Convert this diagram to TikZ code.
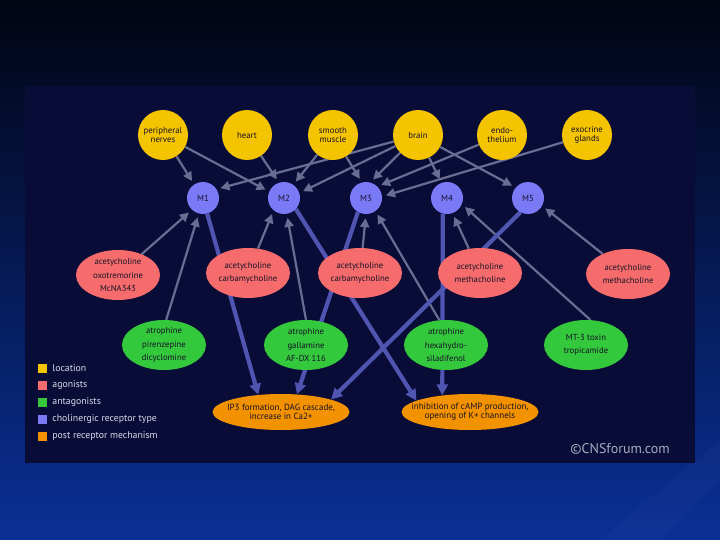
\documentclass[tikz,border=0pt]{standalone}
\usepackage{fontspec}
\setmainfont{PT Sans}
\usetikzlibrary{arrows.meta, shapes.geometric, positioning, backgrounds}

\definecolor{SlideTop}{RGB}{1,4,18}
\definecolor{SlideMid}{RGB}{5,24,86}
\definecolor{SlideBottom}{RGB}{10,48,150}
\definecolor{PanelNavy}{RGB}{10,12,56}
\definecolor{LocYellow}{RGB}{245,196,0}
\definecolor{AgonistRed}{RGB}{246,108,108}
\definecolor{AntagGreen}{RGB}{52,200,60}
\definecolor{ReceptorBlue}{RGB}{122,122,246}
\definecolor{MechOrange}{RGB}{243,146,0}
\definecolor{LinkGrey}{RGB}{104,110,146}
\definecolor{SignalBlue}{RGB}{80,85,178}
\definecolor{InkDark}{RGB}{22,18,40}
\definecolor{LegendText}{RGB}{215,218,235}
\definecolor{CopyGrey}{RGB}{165,170,190}

\pgfdeclarelayer{edges}
\pgfsetlayers{background,edges,main}

\tikzset{
  location/.style={circle, fill=LocYellow, minimum size=50pt, inner sep=0pt,
    font=\fontsize{8.8}{9.5}\selectfont, text=InkDark, align=center},
  receptor/.style={circle, fill=ReceptorBlue, minimum size=32pt, inner sep=0pt,
    font=\fontsize{8.8}{9.5}\selectfont, text=InkDark},
  agonist/.style={ellipse, fill=AgonistRed, minimum width=84pt, minimum height=50pt,
    inner xsep=-2pt, inner ysep=-1.5pt, font=\fontsize{8.7}{13.5}\selectfont,
    text=InkDark, align=center},
  antagonist/.style={agonist, fill=AntagGreen},
  mechanism/.style={ellipse, fill=MechOrange, minimum width=137pt, minimum height=36pt,
    inner xsep=-14pt, inner ysep=0pt, font=\fontsize{9}{9.5}\selectfont,
    text=InkDark, align=center},
  link/.style={draw=LinkGrey, line width=2.2pt, -{Triangle[length=9pt,width=9pt]},
    shorten >=4pt},
  signal/.style={draw=SignalBlue, line width=4.2pt, -{Triangle[length=11pt,width=11pt]}},
  legendbox/.style={fill=#1, minimum size=9pt, inner sep=0pt},
  legendtext/.style={text=LegendText, font=\fontsize{9.8}{11}\selectfont, inner sep=0pt},
}

\begin{document}
\begin{tikzpicture}[x=1pt, y=-1pt]

  % slide and panel
  \begin{pgfonlayer}{background}
    \shade[top color=SlideTop, middle color=SlideMid, bottom color=SlideBottom]
      (0,0) rectangle (720,540);
    \fill[SlideBottom!70!white, opacity=0.06] (600,540) -- (720,440) -- (720,480) -- (660,540) -- cycle;
    \fill[PanelNavy] (25,86) rectangle (695,463);
  \end{pgfonlayer}
  \useasboundingbox (0,0) rectangle (720,540);

  % locations
  \node[location] (nerves)   at (163,135) {peripheral\\nerves};
  \node[location] (heart)    at (247,135) {heart};
  \node[location] (smooth)   at (333,135) {smooth\\muscle};
  \node[location] (brain)    at (418,135) {brain};
  \node[location] (endo)     at (502,135) {endo-\\thelium};
  \node[location] (exocrine) at (587,135) {exocrine\\glands};

  % receptor types
  \foreach \i/\x in {1/203, 2/284, 3/366, 4/447, 5/528}
    \node[receptor] (M\i) at (\x,198) {M\i};

  % agonists
  \node[agonist] (ag1) at (118,275) {acetycholine\\oxotremorine\\McNA343};
  \node[agonist] (ag2) at (248,273) {acetycholine\\carbamycholine};
  \node[agonist] (ag3) at (360,273) {acetycholine\\carbamycholine};
  \node[agonist] (ag4) at (480,273) {acetycholine\\methacholine};
  \node[agonist] (ag5) at (628,274) {acetycholine\\methacholine};

  % antagonists
  \node[antagonist] (an1) at (164,345) {atrophine\\pirenzepine\\dicyclomine};
  \node[antagonist] (an2) at (306,345) {atrophine\\gallamine\\AF-DX 116};
  \node[antagonist] (an3) at (446,345) {atrophine\\hexahydro-\\siladifenol};
  \node[antagonist] (an4) at (586,345) {MT-3 toxin\\tropicamide};

  % post receptor mechanisms
  \node[mechanism] (mech1) at (281,412) {IP3 formation, DAG cascade,\\increase in Ca2+};
  \node[mechanism] (mech2) at (470,412) {inhibition of cAMP production,\\opening of K+ channels};

  % legend
  \foreach \col/\txt [count=\i] in {LocYellow/location, AgonistRed/agonists,
      AntagGreen/antagonists, ReceptorBlue/cholinergic receptor type,
      MechOrange/post receptor mechanism} {
    \node[legendbox=\col] (key\i) at (42,351+17*\i) {};
    \node[legendtext, right=5.5pt of key\i] (keytext\i) {\txt};
  }

  \node[text=CopyGrey, font=\fontsize{14}{16}\selectfont, anchor=east, inner sep=0pt]
    (credit) at (670,449) {©CNSforum.com};

  \begin{pgfonlayer}{edges}
    % locations to receptors
    \draw[link] (nerves) -- (M1.123);
    \draw[link] (nerves) -- (M2.157);
    \draw[link] (heart) -- (M2.108);
    \draw[link] (smooth) -- (M2.55);
    \draw[link] (smooth) -- (M3.105);
    \draw[link] (brain) -- (M1.33);
    \draw[link] (brain) -- (M2.18);
    \draw[link] (brain) -- (M3.75);
    \draw[link] (brain) -- (M4.110);
    \draw[link] (brain) -- (M5.140);
    \draw[link] (endo) -- (M3.45);
    \draw[link] (exocrine) -- (M3.5);

    % agonists and antagonists to receptors
    \draw[link] (ag1) -- (M1.-133);
    \draw[link] (an1.85) -- (M1.-105);
    \draw[link] (ag2) -- (M2.-130);
    \draw[link] (an2.north) -- (M2.-80);
    \draw[link] (ag3) -- (M3.-90);
    \draw[link] (an3.105) -- (M3.-54);
    \draw[link] (ag4) -- (M4.-70);
    \draw[link] (an4.80) -- (M4.-23);
    \draw[link] (ag5) -- (M5.-29);

    % receptors to mechanisms
    \draw[signal] (M1.-75) -- (mech1.143);
    \draw[signal] (M2.-43) -- (mech2.168);
    \draw[signal] (M3.-120) -- (mech1.48);
    \draw[signal] (M4.-105) -- (mech2.149);
    \draw[signal] (M5.-118) -- (mech1.14);
  \end{pgfonlayer}

\end{tikzpicture}
\end{document}
